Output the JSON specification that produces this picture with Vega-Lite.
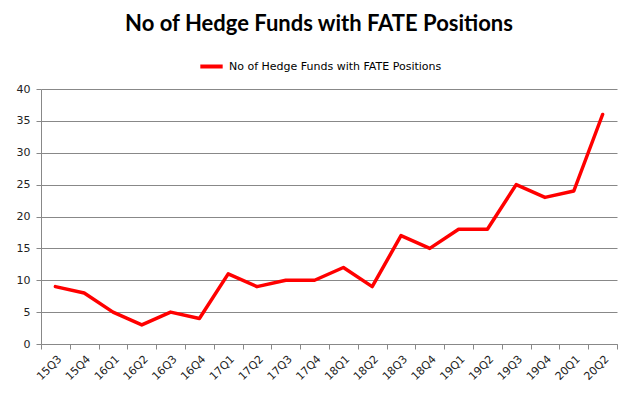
{
  "$schema": "https://vega.github.io/schema/vega-lite/v6.json",
  "width": 576,
  "height": 255,
  "autosize": {"type": "none"},
  "padding": {"left": 41, "top": 89, "right": 18, "bottom": 61},
  "background": "white",
  "title": {
    "text": "No of Hedge Funds with FATE Positions",
    "font": "Lato",
    "fontSize": 22,
    "fontWeight": "bold",
    "color": "#000000",
    "anchor": "middle",
    "frame": "group",
    "offset": 17,
    "dx": -10
  },
  "config": {
    "view": {"stroke": null},
    "axis": {
      "labelFont": "DejaVu Sans",
      "labelFontSize": 11,
      "labelColor": "#222222",
      "domainColor": "#888888",
      "tickColor": "#888888",
      "gridColor": "#888888",
      "title": null
    }
  },
  "data": {
    "values": [
      {"quarter": "15Q3", "funds": 9, "series": "No of Hedge Funds with FATE Positions"},
      {"quarter": "15Q4", "funds": 8, "series": "No of Hedge Funds with FATE Positions"},
      {"quarter": "16Q1", "funds": 5, "series": "No of Hedge Funds with FATE Positions"},
      {"quarter": "16Q2", "funds": 3, "series": "No of Hedge Funds with FATE Positions"},
      {"quarter": "16Q3", "funds": 5, "series": "No of Hedge Funds with FATE Positions"},
      {"quarter": "16Q4", "funds": 4, "series": "No of Hedge Funds with FATE Positions"},
      {"quarter": "17Q1", "funds": 11, "series": "No of Hedge Funds with FATE Positions"},
      {"quarter": "17Q2", "funds": 9, "series": "No of Hedge Funds with FATE Positions"},
      {"quarter": "17Q3", "funds": 10, "series": "No of Hedge Funds with FATE Positions"},
      {"quarter": "17Q4", "funds": 10, "series": "No of Hedge Funds with FATE Positions"},
      {"quarter": "18Q1", "funds": 12, "series": "No of Hedge Funds with FATE Positions"},
      {"quarter": "18Q2", "funds": 9, "series": "No of Hedge Funds with FATE Positions"},
      {"quarter": "18Q3", "funds": 17, "series": "No of Hedge Funds with FATE Positions"},
      {"quarter": "18Q4", "funds": 15, "series": "No of Hedge Funds with FATE Positions"},
      {"quarter": "19Q1", "funds": 18, "series": "No of Hedge Funds with FATE Positions"},
      {"quarter": "19Q2", "funds": 18, "series": "No of Hedge Funds with FATE Positions"},
      {"quarter": "19Q3", "funds": 25, "series": "No of Hedge Funds with FATE Positions"},
      {"quarter": "19Q4", "funds": 23, "series": "No of Hedge Funds with FATE Positions"},
      {"quarter": "20Q1", "funds": 24, "series": "No of Hedge Funds with FATE Positions"},
      {"quarter": "20Q2", "funds": 36, "series": "No of Hedge Funds with FATE Positions"}
    ]
  },
  "mark": {"type": "line", "strokeWidth": 3.5, "strokeCap": "round", "strokeJoin": "round"},
  "encoding": {
    "x": {
      "field": "quarter",
      "type": "ordinal",
      "sort": null,
      "scale": {"type": "band", "paddingInner": 0, "paddingOuter": 0},
      "axis": {"labelAngle": -45, "tickBand": "extent", "tickSize": 5, "grid": false, "labelPadding": 4}
    },
    "y": {
      "field": "funds",
      "type": "quantitative",
      "scale": {"domain": [0, 40]},
      "axis": {"values": [0, 5, 10, 15, 20, 25, 30, 35, 40], "tickSize": 5, "grid": true, "labelPadding": 6}
    },
    "color": {
      "field": "series",
      "type": "nominal",
      "scale": {"range": ["#FF0000"]},
      "legend": {
        "orient": "none",
        "legendX": 157,
        "legendY": -36,
        "title": null,
        "symbolType": "stroke",
        "symbolStrokeWidth": 4,
        "symbolSize": 500,
        "labelFont": "DejaVu Sans",
        "labelFontSize": 11,
        "labelLimit": 400,
        "labelColor": "#000000"
      }
    }
  }
}
